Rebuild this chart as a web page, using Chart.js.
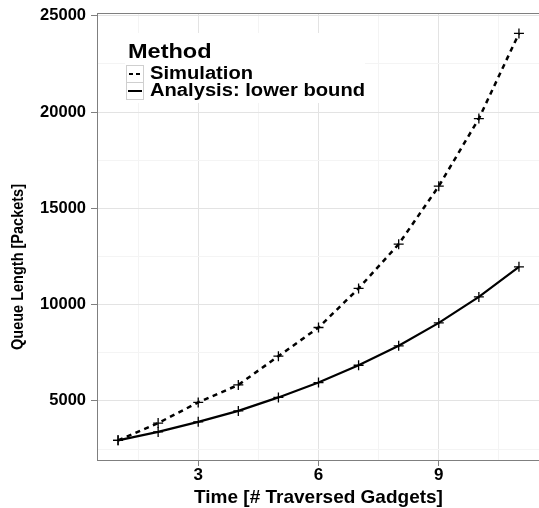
<!DOCTYPE html>
<html>
<head>
<meta charset="utf-8">
<script src="https://cdn.jsdelivr.net/npm/chart.js@4/dist/chart.umd.min.js"></script>
<style>
html,body{margin:0;padding:0;background:#fff;}
#wrap{width:539px;height:508px;position:relative;}
</style>
</head>
<body>
<div id="wrap"><canvas id="c" width="539" height="508"></canvas></div>
<script>
// ---- data ----
const timeSteps = [1, 2, 3, 4, 5, 6, 7, 8, 9, 10, 11];
const simulation = [2950, 3850, 4920, 5830, 7320, 8810, 10840, 13140, 16150, 19660, 24080];
const analysisLowerBound = [2950, 3390, 3910, 4480, 5180, 5950, 6850, 7860, 9050, 10400, 11960];
const xMajorTicks = [3, 6, 9];
const xMinorTicks = [1.5, 4.5, 7.5, 10.5];
const yMajorTicks = [5000, 10000, 15000, 20000, 25000];
const yMinorTicks = [2500, 7500, 12500, 17500, 22500];
const seriesNames = ['Simulation', 'Analysis: lower bound'];
const legendTitle = 'Method';
const xTitle = 'Time [# Traversed Gadgets]';
const yTitle = 'Queue Length [Packets]';

const FONT = "'Liberation Sans', Arial, Helvetica, sans-serif";
const BORDER = '#7f7f7f';
const MAJOR = '#e3e3e3';
const MINOR = '#f4f4f4';

function stretchedText(ctx, text, x, y, sx) {
  ctx.save();
  ctx.translate(x, y);
  ctx.scale(sx, 1);
  ctx.fillText(text, 0, 0);
  ctx.restore();
}

const overlay = {
  id: 'overlay',
  beforeDatasetsDraw(chart) {
    const {ctx, chartArea: a} = chart;
    ctx.save();
    ctx.strokeStyle = BORDER;
    ctx.lineWidth = 1;
    ctx.strokeRect(Math.round(a.left) - 0.5, Math.round(a.top) - 0.5,
      Math.round(a.right - a.left) + 2, Math.round(a.bottom - a.top) + 1);
    ctx.restore();
  },
  afterDraw(chart) {
    const ctx = chart.ctx;
    ctx.save();
    // legend background
    ctx.fillStyle = '#ffffff';
    ctx.fillRect(125, 33, 240, 70);
    ctx.fillStyle = '#000';
    ctx.textBaseline = 'alphabetic';
    ctx.textAlign = 'left';
    ctx.font = 'bold 21px ' + FONT;
    stretchedText(ctx, legendTitle, 128, 58, 1.12);
    // key boxes
    ctx.strokeStyle = '#cfcfcf';
    ctx.lineWidth = 1;
    ctx.strokeRect(126.5, 65.5, 17, 17);
    ctx.strokeRect(126.5, 82.5, 17, 17);
    ctx.strokeStyle = '#000';
    ctx.lineWidth = 2;
    ctx.setLineDash([4, 3]);
    ctx.beginPath(); ctx.moveTo(129, 74); ctx.lineTo(142, 74); ctx.stroke();
    ctx.setLineDash([]);
    ctx.beginPath(); ctx.moveTo(128, 91); ctx.lineTo(142, 91); ctx.stroke();
    ctx.font = 'bold 18px ' + FONT;
    stretchedText(ctx, seriesNames[0], 150, 79, 1.12);
    stretchedText(ctx, seriesNames[1], 150, 96, 1.12);
    // y axis title
    ctx.translate(19, 267);
    ctx.rotate(-Math.PI / 2);
    ctx.scale(1, 1.12);
    ctx.textAlign = 'center';
    ctx.textBaseline = 'middle';
    ctx.font = 'bold 14.5px ' + FONT;
    ctx.fillText(yTitle, 0, 0);
    ctx.restore();
  }
};

new Chart(document.getElementById('c'), {
  type: 'line',
  data: {
    datasets: [
      {
        label: seriesNames[0],
        data: timeSteps.map((t, i) => ({x: t, y: simulation[i]})),
        borderColor: '#000', backgroundColor: '#000',
        borderWidth: 2.5, borderDash: [5, 4.5],
        pointStyle: 'cross', pointRadius: 5, pointBorderWidth: 1.3,
        pointBorderColor: '#000', tension: 0, fill: false
      },
      {
        label: seriesNames[1],
        data: timeSteps.map((t, i) => ({x: t, y: analysisLowerBound[i]})),
        borderColor: '#000', backgroundColor: '#000',
        borderWidth: 2.2,
        pointStyle: 'cross', pointRadius: 5, pointBorderWidth: 1.3,
        pointBorderColor: '#000', tension: 0, fill: false
      }
    ]
  },
  options: {
    responsive: false,
    animation: false,
    devicePixelRatio: 1,
    layout: {autoPadding: false, padding: {top: 14, right: 0, bottom: 0, left: 0}},
    plugins: {legend: {display: false}, tooltip: {enabled: false}},
    scales: {
      x: {
        type: 'linear', min: 0.5, max: 11.5,
        afterBuildTicks(s) {
          s.ticks = [...xMinorTicks, ...xMajorTicks].sort((a, b) => a - b).map(v => ({value: v}));
        },
        afterFit(s) { s.height = 48; },
        border: {display: false},
        grid: {
          color: c => xMajorTicks.includes(c.tick.value) ? MAJOR : MINOR,
          tickColor: c => xMajorTicks.includes(c.tick.value) ? BORDER : 'rgba(0,0,0,0)',
          tickLength: 6, lineWidth: 1
        },
        ticks: {
          autoSkip: false, maxRotation: 0, padding: 1,
          color: '#000',
          font: {family: FONT, size: 17, weight: 'bold', lineHeight: 1},
          callback: v => xMajorTicks.includes(v) ? String(v) : ''
        },
        title: {
          display: true, text: xTitle, color: '#000',
          font: {family: FONT, size: 19, weight: 'bold', lineHeight: 1},
          padding: {top: 0, bottom: 1}
        }
      },
      y: {
        type: 'linear', min: 1930, max: 25090,
        afterBuildTicks(s) {
          s.ticks = [...yMinorTicks, ...yMajorTicks].sort((a, b) => a - b).map(v => ({value: v}));
        },
        afterFit(s) { s.width = 98; },
        border: {display: false},
        grid: {
          color: c => yMajorTicks.includes(c.tick.value) ? MAJOR : MINOR,
          tickColor: c => yMajorTicks.includes(c.tick.value) ? BORDER : 'rgba(0,0,0,0)',
          tickLength: 7, lineWidth: 1
        },
        ticks: {
          autoSkip: false, padding: 5,
          color: '#000',
          font: {family: FONT, size: 16.5, weight: 'bold', lineHeight: 1},
          callback: v => yMajorTicks.includes(v) ? String(v) : ''
        },
        title: {display: false}
      }
    }
  },
  plugins: [overlay]
});
</script>
</body>
</html>
